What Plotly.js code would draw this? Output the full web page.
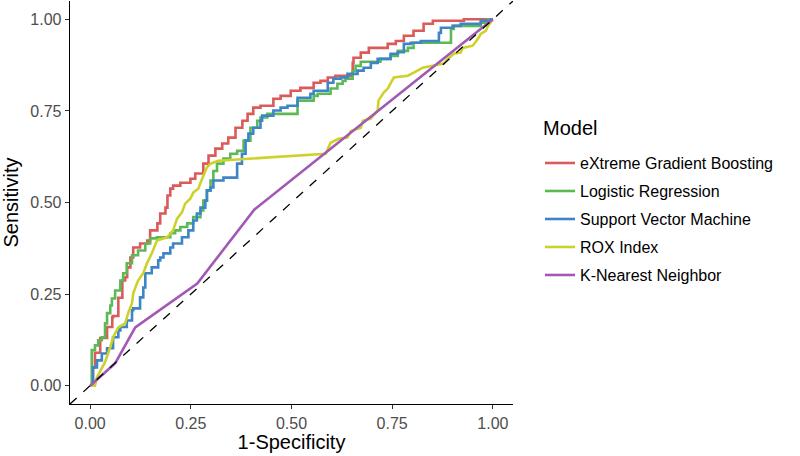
<!DOCTYPE html>
<html>
<head>
<meta charset="utf-8">
<script src="https://cdn.plot.ly/plotly-3.0.1.min.js"></script>
<style>html,body{margin:0;padding:0;background:#fff;}#chart{width:800px;height:456px;}</style>
</head>
<body>
<div id="chart"></div>
<script>
// ---- data ----
const modelNames = ["eXtreme Gradient Boosting", "Logistic Regression", "Support Vector Machine", "ROX Index", "K-Nearest Neighbor"];
const modelColors = ["#DB5A5A", "#5DB956", "#3D85C6", "#CDD22A", "#A259B5"];
const legendTitle = "Model";

const xgbX = [0,0.007,0.012,0.025,0.042,0.055,0.057,0.07,0.08,0.087,0.092,0.1,0.107,0.124,0.142,0.149,0.167,0.174,0.187,0.192,0.199,0.206,0.224,0.249,0.261,0.281,0.294,0.311,0.328,0.343,0.361,0.378,0.391,0.405,0.423,0.455,0.473,0.498,0.522,0.555,0.572,0.59,0.609,0.652,0.654,0.672,0.692,0.739,0.759,0.779,0.803,0.828,0.851,0.928,0.938,1];
const xgbY = [0,0,0.05,0.09,0.13,0.16,0.187,0.19,0.24,0.287,0.296,0.323,0.35,0.377,0.388,0.396,0.424,0.443,0.47,0.486,0.519,0.538,0.546,0.554,0.565,0.579,0.606,0.628,0.647,0.661,0.677,0.704,0.723,0.742,0.759,0.764,0.783,0.791,0.805,0.813,0.827,0.832,0.841,0.846,0.881,0.895,0.909,0.922,0.933,0.941,0.955,0.969,0.988,0.996,1,1];

const lrX = [0,0.004,0.004,0.012,0.02,0.029,0.037,0.042,0.05,0.054,0.062,0.075,0.082,0.091,0.104,0.119,0.137,0.149,0.166,0.199,0.211,0.224,0.241,0.256,0.274,0.281,0.29,0.299,0.306,0.315,0.331,0.348,0.365,0.381,0.398,0.415,0.423,0.44,0.464,0.515,0.515,0.555,0.565,0.597,0.614,0.627,0.634,0.652,0.659,0.672,0.721,0.746,0.764,0.789,0.803,0.821,0.896,0.896,0.903,0.97,0.988,1];
const lrY = [0,0,0.069,0.097,0.11,0.124,0.132,0.17,0.198,0.219,0.238,0.26,0.287,0.307,0.334,0.356,0.369,0.388,0.402,0.405,0.416,0.424,0.433,0.443,0.46,0.478,0.505,0.533,0.56,0.586,0.606,0.62,0.633,0.641,0.669,0.704,0.723,0.732,0.742,0.742,0.772,0.778,0.791,0.797,0.811,0.824,0.832,0.838,0.859,0.873,0.884,0.892,0.9,0.914,0.922,0.936,0.936,0.969,0.974,0.982,0.991,1];

const svmX = [0,0.007,0.017,0.029,0.042,0.057,0.07,0.075,0.091,0.104,0.107,0.124,0.132,0.137,0.137,0.153,0.169,0.174,0.182,0.199,0.206,0.228,0.244,0.256,0.265,0.274,0.286,0.29,0.299,0.306,0.331,0.365,0.377,0.386,0.393,0.405,0.423,0.427,0.455,0.473,0.49,0.515,0.547,0.555,0.59,0.604,0.622,0.639,0.664,0.679,0.697,0.714,0.746,0.764,0.779,0.796,0.821,0.866,0.871,0.9,0.92,0.97,0.995,1];
const svmY = [0,0,0.05,0.069,0.088,0.102,0.132,0.151,0.16,0.178,0.206,0.211,0.241,0.268,0.296,0.307,0.323,0.342,0.35,0.361,0.377,0.388,0.405,0.424,0.451,0.47,0.486,0.505,0.533,0.541,0.56,0.568,0.606,0.633,0.669,0.688,0.704,0.723,0.737,0.751,0.759,0.764,0.786,0.797,0.805,0.827,0.838,0.841,0.851,0.86,0.868,0.881,0.892,0.906,0.91,0.933,0.936,0.941,0.963,0.977,0.982,0.988,0.996,1];

const roxX = [0,0.012,0.017,0.029,0.037,0.05,0.057,0.07,0.087,0.095,0.104,0.107,0.119,0.132,0.141,0.153,0.166,0.191,0.206,0.216,0.228,0.236,0.249,0.256,0.269,0.274,0.281,0.29,0.299,0.318,0.585,0.597,0.617,0.639,0.647,0.672,0.677,0.697,0.714,0.716,0.729,0.739,0.754,0.789,0.813,0.826,0.878,0.888,0.903,0.92,0.925,0.95,0.963,0.97,0.983,0.988,1];
const roxY = [0,0,0.023,0.048,0.064,0.105,0.132,0.159,0.17,0.2,0.225,0.252,0.287,0.307,0.334,0.361,0.396,0.405,0.424,0.456,0.473,0.497,0.511,0.527,0.538,0.554,0.574,0.596,0.606,0.614,0.633,0.663,0.674,0.677,0.695,0.704,0.723,0.729,0.751,0.778,0.8,0.811,0.841,0.846,0.86,0.868,0.879,0.892,0.906,0.909,0.922,0.928,0.947,0.96,0.969,0.982,1];

const knnX = [0,0.062,0.112,0.266,0.408,1];
const knnY = [0,0.061,0.159,0.279,0.481,1];

const refX = [-0.05, 1.05];
const refY = [-0.05, 1.05];

const tickVals = [0, 0.25, 0.5, 0.75, 1];
const tickText = ["0.00", "0.25", "0.50", "0.75", "1.00"];

// ---- traces ----
const seriesX = [xgbX, lrX, svmX, roxX, knnX];
const seriesY = [xgbY, lrY, svmY, roxY, knnY];
const shapes = ["vh", "vh", "vh", "linear", "linear"];
const traces = modelNames.map((n, i) => ({
  type: "scatter", mode: "lines", name: n,
  x: seriesX[i], y: seriesY[i],
  line: {color: modelColors[i], width: 2.6, shape: shapes[i]},
  legendgroup: "g" + i
}));
traces.push({
  type: "scatter", mode: "lines", x: refX, y: refY, showlegend: false,
  line: {color: "#000", width: 1.3, dash: "dash"}, hoverinfo: "skip"
});

const font = "Liberation Sans, Arial, Helvetica, sans-serif";
const axisCommon = {
  range: [-0.05, 1.05], tickvals: tickVals, ticktext: tickText,
  showgrid: false, zeroline: false, showline: true, linecolor: "#000", linewidth: 1.3,
  ticks: "outside", ticklen: 4, tickwidth: 1.1, tickcolor: "#333",
  tickfont: {family: font, size: 16, color: "#4D4D4D"}
};

const layout = {
  width: 800, height: 456,
  margin: {l: 70, r: 287, t: 1, b: 52},
  paper_bgcolor: "#fff", plot_bgcolor: "#fff",
  font: {family: font},
  xaxis: Object.assign({}, axisCommon, {title: {text: "1-Specificity", font: {family: font, size: 20, color: "#000"}, standoff: 0}}),
  yaxis: Object.assign({}, axisCommon, {title: {text: "Sensitivity", font: {family: font, size: 20, color: "#000"}, standoff: 6}}),
  legend: {
    x: 1.061, xanchor: "left", y: 0.640, yanchor: "top",
    font: {family: font, size: 16, color: "#000"},
    tracegroupgap: 4.2, bgcolor: "rgba(0,0,0,0)"
  },
  annotations: [{
    text: legendTitle, xref: "paper", yref: "paper", x: 1.063, y: 0.685,
    xanchor: "left", yanchor: "middle", showarrow: false,
    font: {family: font, size: 20, color: "#000"}
  }],
  showlegend: true
};

Plotly.newPlot("chart", traces, layout, {displayModeBar: false, staticPlot: true});
</script>
</body>
</html>
